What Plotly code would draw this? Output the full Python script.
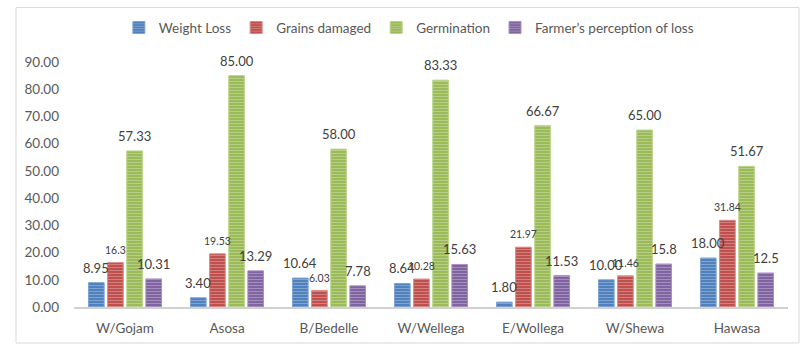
import plotly.graph_objects as go

categories = ["W/Gojam", "Asosa", "B/Bedelle", "W/Wellega", "E/Wollega", "W/Shewa", "Hawasa"]
weight_loss = [8.95, 3.40, 10.64, 8.64, 1.80, 10.00, 18.00]
grains_damaged = [16.3, 19.53, 6.03, 10.28, 21.97, 11.46, 31.84]
germination = [57.33, 85.00, 58.00, 83.33, 66.67, 65.00, 51.67]
farmer_perception = [10.31, 13.29, 7.78, 15.63, 11.53, 15.8, 12.5]

weight_loss_labels = ["8.95", "3.40", "10.64", "8.64", "1.80", "10.00", "18.00"]
grains_damaged_labels = ["16.3", "19.53", "6.03", "10.28", "21.97", "11.46", "31.84"]
germination_labels = ["57.33", "85.00", "58.00", "83.33", "66.67", "65.00", "51.67"]
farmer_perception_labels = ["10.31", "13.29", "7.78", "15.63", "11.53", "15.8", "12.5"]

series_names = ["Weight Loss", "Grains damaged", "Germination", "Farmer\u2019s perception of loss"]
y_ticks = [0, 10, 20, 30, 40, 50, 60, 70, 80, 90]

FONT = "Lato"
TXT = "#595959"
LBL = "#404040"
colors = ["#4F81BD", "#C0504D", "#9BBB59", "#8064A2"]
edge = ["#7FA3D4", "#D98A88", "#BCD58C", "#A890C4"]
label_sizes = [13, 10.5, 13, 13]

series = [weight_loss, grains_damaged, germination, farmer_perception]
labels = [weight_loss_labels, grains_damaged_labels, germination_labels, farmer_perception_labels]

bargap = 0.25
n = len(series)

fig = go.Figure()
for i, (name, vals) in enumerate(zip(series_names, series)):
    fig.add_trace(go.Bar(
        name=name, x=categories, y=vals,
        marker=dict(
            color=colors[i],
            line=dict(color=edge[i], width=1),
            pattern=dict(shape="-", fgcolor="rgba(255,255,255,0.55)", size=3, solidity=0.35, fillmode="overlay"),
        ),
        hoverinfo="skip",
    ))

annotations = []
slot = (1 - bargap) / n
for i, vals in enumerate(series):
    off = (i - (n - 1) / 2) * slot
    for j, v in enumerate(vals):
        annotations.append(dict(
            x=j + off, y=v, xref="x", yref="y", text=labels[i][j],
            showarrow=False, yanchor="bottom", xanchor="center", yshift=5,
            font=dict(family=FONT, size=label_sizes[i], color=LBL),
        ))

fig.update_layout(
    width=800, height=348,
    margin=dict(l=74, r=12, t=57, b=39),
    paper_bgcolor="white", plot_bgcolor="white",
    barmode="group", bargap=bargap, bargroupgap=0.18,
    font=dict(family=FONT, size=13, color=TXT),
    showlegend=True,
    legend=dict(orientation="h", x=0.469, xanchor="center", y=1.14, yanchor="middle",
                font=dict(family=FONT, size=13.5, color=TXT), itemwidth=30, traceorder="normal"),
    xaxis=dict(showline=True, linecolor="#D0D0D0", linewidth=2, showgrid=False, zeroline=False,
               ticks="", tickfont=dict(family=FONT, size=13.5, color=TXT), ticklabelstandoff=8),
    yaxis=dict(range=[0, 90], tickvals=y_ticks, tickformat=".2f", showgrid=False, zeroline=False,
               showline=False, ticks="", tickfont=dict(family=FONT, size=13.5, color=TXT),
               ticklabelstandoff=14),
    annotations=annotations,
    shapes=[dict(type="rect", xref="paper", yref="paper",
                 x0=(16 - 74) / 714, x1=(799 - 74) / 714,
                 y0=(309 - 346) / 252, y1=(309 - 1) / 252,
                 line=dict(color="#D9D9D9", width=1), layer="below")],
)

fig.write_html("out.html")
